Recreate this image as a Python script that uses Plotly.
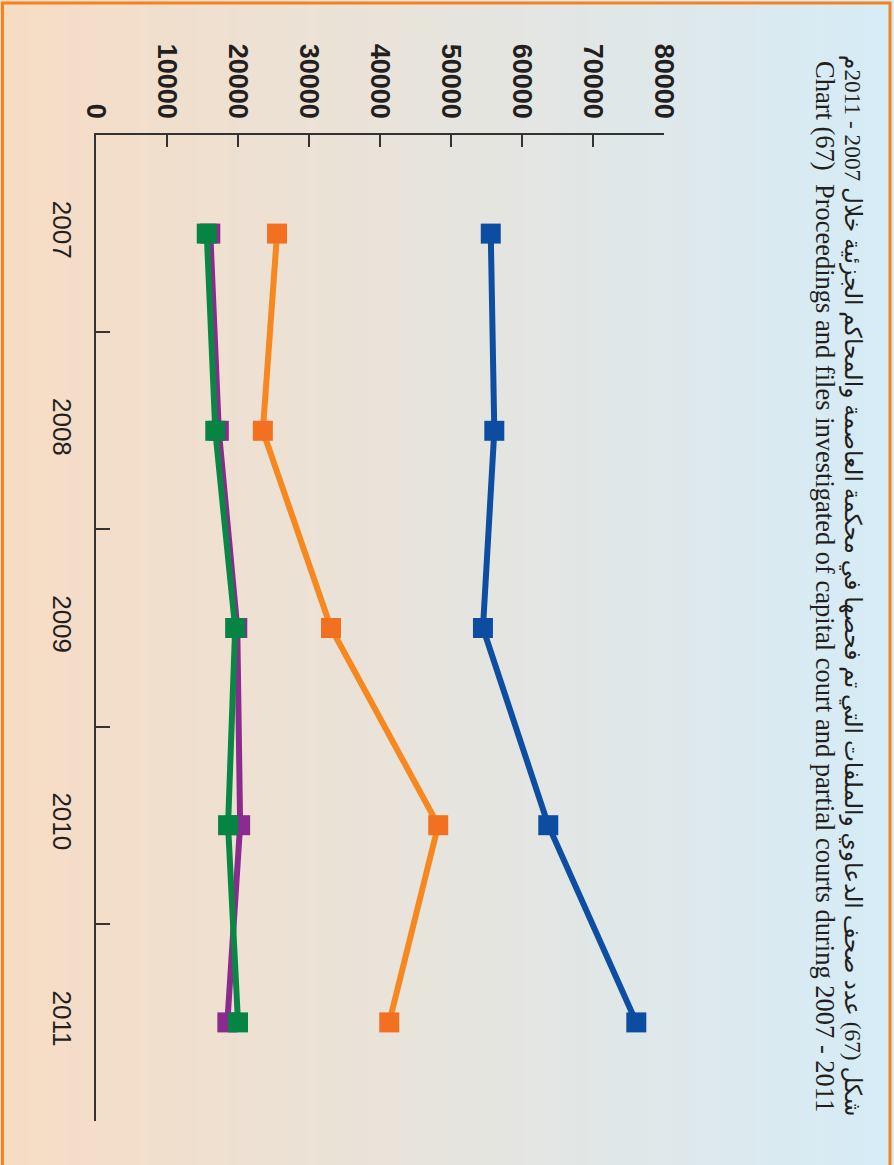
import plotly.graph_objects as go

years = ['2007', '2008', '2009', '2010', '2011']
capital_blue = [55600, 56100, 54500, 63700, 76100]
orange_series = [25500, 23500, 33100, 48200, 41300]
purple_series = [16100, 17300, 19900, 20300, 18500]
green_series = [15600, 16800, 19600, 18600, 20000]

title_ar = 'شكل (67) عدد صحف الدعاوي والملفات التي تم فحصها في محكمة العاصمة والمحاكم الجزئية خلال 2007 - 2011م'
title_en = 'Chart (67)  Proceedings and files investigated of capital court and partial courts during 2007 - 2011'

W, H = 894, 1165
L, R, T, B = 96, 230, 135, 44
pw, ph = W - L - R, H - T - B


def px_x(p):
    return (p - L) / pw


def px_y(p):
    return (H - B - p) / ph


fig = go.Figure()

series = [
    (capital_blue, '#0d4ea2', '#0c4da2'),
    (orange_series, '#f7871f', '#f37021'),
    (purple_series, '#8c2a8e', '#8b2a8f'),
    (green_series, '#088745', '#068443'),
]
for vals, lc, mc in series:
    fig.add_trace(go.Scatter(
        x=vals, y=years, mode='lines+markers',
        line=dict(color=lc, width=6),
        marker=dict(symbol='square', size=20, color=mc),
        showlegend=False, cliponaxis=False,
    ))

# background gradient, peach (left) to light blue (right)
c0 = (247, 220, 196)
c1 = (214, 236, 247)
n = 90
shapes = []
for i in range(n):
    t = i / (n - 1)
    col = 'rgb(%d,%d,%d)' % tuple(round(a + (b - a) * t) for a, b in zip(c0, c1))
    shapes.append(dict(
        type='rect', xref='paper', yref='paper', layer='below',
        x0=px_x(i * W / n), x1=px_x((i + 1) * W / n + 1),
        y0=px_y(H + 2), y1=px_y(-2),
        fillcolor=col, line=dict(width=0),
    ))
# orange frame
shapes.append(dict(
    type='rect', xref='paper', yref='paper', layer='above',
    x0=px_x(2.5), x1=px_x(890), y0=px_y(1168), y1=px_y(3),
    line=dict(color='#f58220', width=3), fillcolor='rgba(0,0,0,0)',
))

fig.update_layout(
    width=W, height=H,
    margin=dict(l=L, r=R, t=T, b=B, autoexpand=False),
    paper_bgcolor='#e8e6de',
    plot_bgcolor='rgba(0,0,0,0)',
    shapes=shapes,
    xaxis=dict(
        side='top', range=[0, 80000], dtick=10000, tick0=0,
        tickformat='d', automargin=False, ticklabelstandoff=5,
        showgrid=False, zeroline=False,
        showline=True, linecolor='#333333', linewidth=1.5,
        ticks='inside', ticklen=12, tickwidth=1.5, tickcolor='#333333',
        tickangle=90,
        tickfont=dict(family='Liberation Sans', size=27, color='#231f20', weight='bold'),
    ),
    yaxis=dict(
        type='category', categoryorder='array', categoryarray=years,
        range=[4.5, -0.5], tickson='boundaries', automargin=False,
        ticklabelstandoff=10,
        showgrid=False, zeroline=False,
        showline=True, linecolor='#333333', linewidth=1.5,
        ticks='inside', ticklen=14, tickwidth=1.5, tickcolor='#333333',
        tickangle=90,
        tickfont=dict(family='Liberation Sans', size=26, color='#231f20'),
    ),
    annotations=[
        dict(text=title_ar, xref='paper', yref='paper',
             x=px_x(853), y=px_y(585), textangle=90, showarrow=False,
             xanchor='center', yanchor='middle',
             font=dict(family='Liberation Serif, DejaVu Sans', size=23.3, color='#231f20')),
        dict(text=title_en, xref='paper', yref='paper',
             x=px_x(825), y=px_y(586), textangle=90, showarrow=False,
             xanchor='center', yanchor='middle',
             font=dict(family='Liberation Serif', size=26.5, color='#231f20')),
    ],
)

fig.write_html('out.html', config={'displayModeBar': False},
               post_script="document.body.style.margin='0';")
